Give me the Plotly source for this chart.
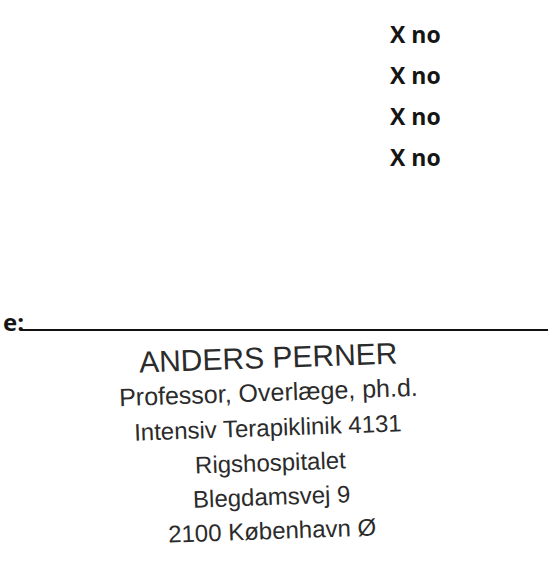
import plotly.graph_objects as go

# Note: the handwritten signature in the reference is intentionally not traced/reproduced;
# only the printed text, the signature line and the stamp text are recreated.

# Data (text content)
checkbox_labels = ["X no", "X no", "X no", "X no"]
checkbox_y = [34, 75, 116, 157]
line_label = "e:"
stamp_lines = ["ANDERS PERNER", "Professor, Overlæge, ph.d.", "Intensiv Terapiklinik 4131",
               "Rigshospitalet", "Blegdamsvej 9", "2100 København Ø"]
stamp_y = [357, 392, 427, 462, 496, 530]
stamp_x = [268, 268, 268, 270, 271, 272]
stamp_sizes = [30, 25, 24, 24, 24, 24]
sig_line_x = [20, 548]
sig_line_y = [330, 330]

fig = go.Figure()
fig.add_trace(go.Scatter(x=sig_line_x, y=sig_line_y, mode="lines",
                         line=dict(color="#111111", width=2.2), hoverinfo="skip"))

for lab, yy in zip(checkbox_labels, checkbox_y):
    fig.add_annotation(x=388, y=yy, text="<b>" + lab + "</b>", showarrow=False, xanchor="left",
                       yanchor="middle", font=dict(family="Open Sans", size=23, color="#151515"),
                       xref="x", yref="y")

fig.add_annotation(x=0.5, y=321, text="<b>" + line_label + "</b>", showarrow=False, xanchor="left",
                   yanchor="middle", font=dict(family="Open Sans", size=24, color="#151515"),
                   xref="x", yref="y")

for txt, xx, yy, sz in zip(stamp_lines, stamp_x, stamp_y, stamp_sizes):
    fig.add_annotation(x=xx, y=yy, text=txt, showarrow=False, xanchor="center", yanchor="middle",
                       textangle=-2, font=dict(family="Liberation Sans", size=sz, color="#2b2b2b"),
                       xref="x", yref="y")

fig.update_layout(
    width=548, height=571, margin=dict(l=0, r=0, t=0, b=0),
    paper_bgcolor="white", plot_bgcolor="white", showlegend=False,
    xaxis=dict(range=[0, 548], visible=False, fixedrange=True),
    yaxis=dict(range=[571, 0], visible=False, fixedrange=True),
)
fig.write_html("out.html", config={"displayModeBar": False},
               post_script="document.body.style.margin='0';document.body.style.overflow='hidden';")
